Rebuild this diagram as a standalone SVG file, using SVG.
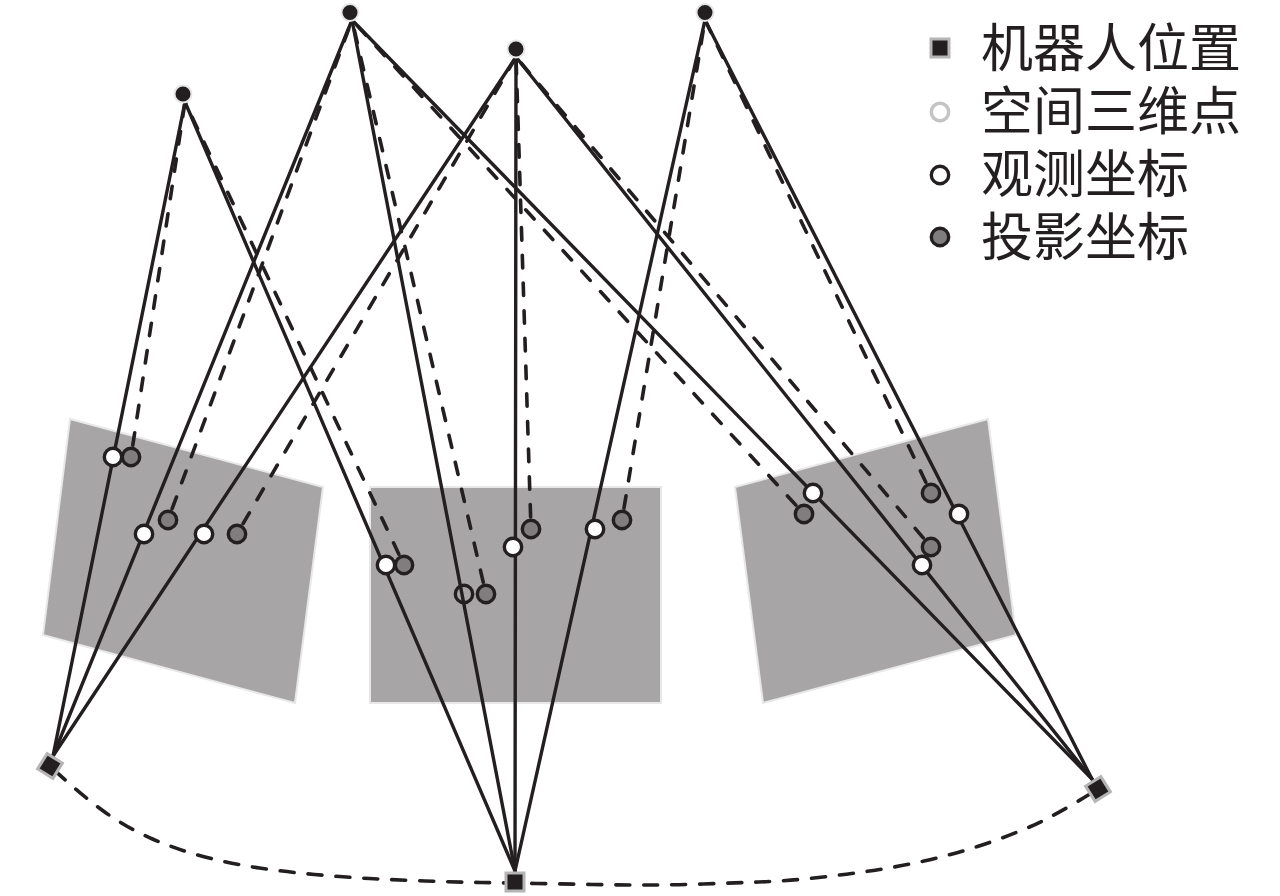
<svg xmlns="http://www.w3.org/2000/svg" width="1280" height="896" viewBox="0 0 1280 896">
<style>
.plane{fill:#a7a5a6;stroke:#e8e8e8;stroke-width:2}
.sol{fill:none;stroke:#231f20;stroke-width:3.4;stroke-linecap:round}
.das{fill:none;stroke:#231f20;stroke-width:3.6;stroke-linecap:round;stroke-dasharray:12.5 15.2;stroke-dashoffset:-12}
.cur{fill:none;stroke:#231f20;stroke-width:3.6;stroke-linecap:round;stroke-dasharray:14 14;stroke-dashoffset:-6.5}
.obs{fill:#fff;stroke:#231f20;stroke-width:3.4}
.open{fill:none;stroke:#231f20;stroke-width:3.4}
.prj{fill:#7f7d7e;stroke:#231f20;stroke-width:3.4}
.pt{fill:#231f20;stroke:#e6e6e6;stroke-width:2}
.rb{fill:#b5b5b5}
.rc{fill:#231f20}
.lg{fill:#231f20;font-family:"Liberation Serif","Noto Sans CJK SC",serif;font-size:52px}
</style>
<defs>
<g id="robot"><rect class="rb" x="-10.500" y="-10.500" width="21" height="21"/><rect class="rc" x="-7.500" y="-7.500" width="15" height="15"/></g>
</defs>
<g id="plane-left"><polygon class="plane" points="70,419 323,487 295,703 43,635"/></g>
<g id="plane-center"><polygon class="plane" points="370,487 661,487 661,703 370,703"/></g>
<g id="plane-right"><polygon class="plane" points="735,487 988,419 1016,635 763,703"/></g>
<g id="connectors">
<path class="cur" d="M50 766Q81 795 104 811.500Q127 828 152.500 839Q178 850 205 857Q232 864 259.500 868Q287 872 314.500 874.500Q342 877 369.500 878.500Q397 880 425 881Q453 882 481 882.500Q508 883 536 883.500Q564 884 592 884.500Q620 885 647.500 885Q675 885 703 884Q731 883 758.500 882Q786 881 814 878Q842 875 869.500 871Q897 867 924 861Q951 855 977.500 846.500Q1004 838 1029.500 827Q1055 816 1098 789"/>
<path class="das" d="M131 457L185 102"/>
<path class="das" d="M168 520L352 20"/>
<path class="das" d="M237 534L516 57"/>
<path class="das" d="M404 565L185 102"/>
<path class="das" d="M486 594L352 20"/>
<path class="das" d="M531 529L516 57"/>
<path class="das" d="M622 520L705 20"/>
<path class="das" d="M804 514L352 20"/>
<path class="das" d="M931 547L516 57"/>
<path class="das" d="M931 493L705 20"/>
<path class="sol" d="M53 756L185 102"/>
<path class="sol" d="M53 756L352 20"/>
<path class="sol" d="M53 756L516 57"/>
<path class="sol" d="M515 871L185 102"/>
<path class="sol" d="M515 871L352 20"/>
<path class="sol" d="M515 871L516 57"/>
<path class="sol" d="M515 871L705 20"/>
<path class="sol" d="M1092 779L352 20"/>
<path class="sol" d="M1092 779L516 57"/>
<path class="sol" d="M1092 779L705 20"/>
</g>
<g id="point-a"><circle class="pt" cx="183" cy="94" r="8.500"/></g>
<g id="point-b"><circle class="pt" cx="350" cy="12.500" r="8.500"/></g>
<g id="point-c"><circle class="pt" cx="516" cy="49" r="8.500"/></g>
<g id="point-d"><circle class="pt" cx="705" cy="12.500" r="8.500"/></g>
<g id="robot-left"><use href="#robot" transform="translate(50 766) rotate(32)"/></g>
<g id="robot-center"><use href="#robot" transform="translate(515 882)"/></g>
<g id="robot-right"><use href="#robot" transform="translate(1098 789) rotate(-32)"/></g>
<g id="proj-1"><circle class="prj" cx="131" cy="457" r="8.700"/></g>
<g id="proj-2"><circle class="prj" cx="168" cy="520" r="8.700"/></g>
<g id="proj-3"><circle class="prj" cx="237" cy="534" r="8.700"/></g>
<g id="proj-4"><circle class="prj" cx="404" cy="565" r="8.700"/></g>
<g id="proj-5"><circle class="prj" cx="486" cy="594" r="8.700"/></g>
<g id="proj-6"><circle class="prj" cx="531" cy="529" r="8.700"/></g>
<g id="proj-7"><circle class="prj" cx="622" cy="520" r="8.700"/></g>
<g id="proj-8"><circle class="prj" cx="804" cy="514" r="8.700"/></g>
<g id="proj-9"><circle class="prj" cx="931" cy="547" r="8.700"/></g>
<g id="proj-10"><circle class="prj" cx="931" cy="493" r="8.700"/></g>
<g id="obs-1"><circle class="obs" cx="113" cy="457" r="8.700"/></g>
<g id="obs-2"><circle class="obs" cx="144" cy="534" r="8.700"/></g>
<g id="obs-3"><circle class="obs" cx="204" cy="534" r="8.700"/></g>
<g id="obs-4"><circle class="obs" cx="386" cy="565" r="8.700"/></g>
<g id="obs-5"><circle class="open" cx="464" cy="594" r="8.700"/></g>
<g id="obs-6"><circle class="obs" cx="513" cy="547" r="8.700"/></g>
<g id="obs-7"><circle class="obs" cx="595" cy="529" r="8.700"/></g>
<g id="obs-8"><circle class="obs" cx="813" cy="493" r="8.700"/></g>
<g id="obs-9"><circle class="obs" cx="922" cy="565" r="8.700"/></g>
<g id="obs-10"><circle class="obs" cx="959" cy="514" r="8.700"/></g>
<g id="legend-robot"><use href="#robot" x="940" y="48"/><text class="lg" x="981" y="67">机器人位置</text></g>
<g id="legend-point"><circle cx="940" cy="112" r="8.700" fill="#fff" stroke="#c4c4c4" stroke-width="3.500"/><text class="lg" x="981" y="130">空间三维点</text></g>
<g id="legend-obs"><circle class="obs" cx="940" cy="175" r="8.700"/><text class="lg" x="981" y="193">观测坐标</text></g>
<g id="legend-proj"><circle class="prj" cx="940" cy="237" r="8.700"/><text class="lg" x="981" y="256">投影坐标</text></g>
</svg>
